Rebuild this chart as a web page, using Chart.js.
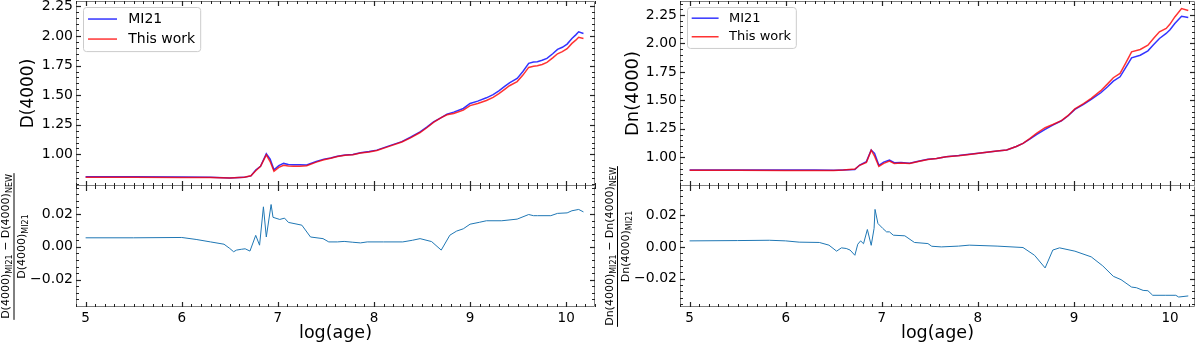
<!DOCTYPE html>
<html>
<head>
<meta charset="utf-8">
<script src="https://cdn.jsdelivr.net/npm/chart.js@4.4.0/dist/chart.umd.min.js"></script>
<style>
  html, body { margin: 0; padding: 0; background: #fff; }
  #wrap { position: relative; width: 1200px; height: 344px; }
  canvas { position: absolute; }
</style>
</head>
<body>
<div id="wrap">
  <canvas id="dTop" width="600" height="186" style="left:0;top:0"></canvas>
  <canvas id="dRes" width="600" height="184" style="left:0;top:160px"></canvas>
  <canvas id="dnTop" width="600" height="186" style="left:600px;top:0"></canvas>
  <canvas id="dnRes" width="600" height="184" style="left:600px;top:160px"></canvas>
</div>
<script>
// D(4000): MI21 vs this work
const ageD = [5.0, 5.5, 6.0, 6.3, 6.5, 6.65, 6.72, 6.77, 6.82, 6.88, 6.92, 6.96, 7.01, 7.06, 7.11, 7.16, 7.23, 7.3, 7.4, 7.48,
  7.55, 7.62, 7.7, 7.78, 7.86, 7.95, 8.03, 8.15, 8.29, 8.38, 8.48, 8.55, 8.62, 8.7, 8.76, 8.83, 8.93, 9.0, 9.08, 9.17,
  9.24, 9.3, 9.36, 9.41, 9.49, 9.55, 9.61, 9.66, 9.7, 9.75, 9.8, 9.86, 9.91, 9.96, 10.01, 10.06, 10.1, 10.13, 10.18];
const d4000MI21 = [0.811, 0.811, 0.810, 0.806, 0.800, 0.806, 0.818, 0.868, 0.900, 1.005, 0.960, 0.870, 0.905, 0.924, 0.915, 0.912, 0.912, 0.910, 0.940, 0.960,
  0.970, 0.985, 0.995, 1.000, 1.014, 1.024, 1.036, 1.070, 1.108, 1.145, 1.190, 1.230, 1.275, 1.310, 1.340, 1.357, 1.388, 1.430, 1.450, 1.478,
  1.505, 1.537, 1.575, 1.605, 1.642, 1.700, 1.769, 1.780, 1.783, 1.795, 1.811, 1.850, 1.887, 1.905, 1.932, 1.980, 2.010, 2.036, 2.022];
const d4000New = [0.806, 0.806, 0.805, 0.804, 0.801, 0.807, 0.820, 0.862, 0.900, 0.996, 0.940, 0.857, 0.890, 0.908, 0.902, 0.900, 0.900, 0.904, 0.935, 0.955,
  0.967, 0.982, 0.992, 0.997, 1.011, 1.021, 1.033, 1.066, 1.105, 1.140, 1.185, 1.225, 1.270, 1.310, 1.335, 1.345, 1.374, 1.412, 1.430, 1.455,
  1.482, 1.513, 1.550, 1.580, 1.615, 1.670, 1.735, 1.745, 1.749, 1.760, 1.777, 1.815, 1.850, 1.868, 1.893, 1.938, 1.965, 1.990, 1.980];
const ageResD = [5.0, 5.5, 6.0, 6.15, 6.3, 6.44, 6.5, 6.54, 6.57, 6.62, 6.66, 6.71, 6.77, 6.81, 6.85, 6.88, 6.93, 6.95, 7.02, 7.07,
  7.11, 7.21, 7.25, 7.34, 7.47, 7.53, 7.62, 7.69, 7.78, 7.86, 7.93, 8.1, 8.3, 8.4, 8.48, 8.6, 8.7, 8.79, 8.86, 8.93,
  9.0, 9.1, 9.17, 9.33, 9.49, 9.61, 9.66, 9.7, 9.84, 9.91, 10.01, 10.06, 10.13, 10.18];
const resD = [0.0055, 0.0055, 0.0057, 0.0045, 0.003, 0.0016, -0.001, -0.003, -0.002, -0.0015, -0.0012, -0.0026, 0.007, 0.001, 0.0244, 0.006, 0.0258, 0.018, 0.0167, 0.0175,
  0.0149, 0.0137, 0.0132, 0.006, 0.005, 0.003, 0.003, 0.0033, 0.0028, 0.0024, 0.003, 0.003, 0.003, 0.004, 0.005, 0.0032, -0.002, 0.0071, 0.0096, 0.011,
  0.0138, 0.015, 0.0159, 0.0159, 0.0169, 0.0197, 0.019, 0.019, 0.019, 0.0204, 0.0207, 0.022, 0.0228, 0.0213];

// Dn(4000): MI21 vs this work
const ageDn = [5.0, 5.5, 6.0, 6.3, 6.5, 6.6, 6.72, 6.77, 6.84, 6.89, 6.925, 6.97, 7.02, 7.08, 7.13, 7.2, 7.29, 7.38, 7.48, 7.57,
  7.67, 7.8, 7.91, 8.05, 8.2, 8.3, 8.4, 8.47, 8.54, 8.61, 8.7, 8.78, 8.87, 8.94, 9.01, 9.1, 9.18, 9.28, 9.35, 9.41,
  9.48, 9.54, 9.6, 9.69, 9.77, 9.83, 9.89, 9.96, 10.0, 10.05, 10.12, 10.19];
const dn4000MI21 = [0.889, 0.889, 0.888, 0.888, 0.886, 0.889, 0.893, 0.932, 0.962, 1.064, 1.035, 0.930, 0.958, 0.976, 0.953, 0.955, 0.947, 0.965, 0.982, 0.990,
  1.005, 1.015, 1.026, 1.040, 1.055, 1.064, 1.095, 1.123, 1.160, 1.200, 1.245, 1.283, 1.321, 1.365, 1.421, 1.465, 1.509, 1.567, 1.620, 1.669,
  1.707, 1.790, 1.874, 1.897, 1.935, 1.990, 2.044, 2.088, 2.120, 2.175, 2.239, 2.228];
const dn4000New = [0.886, 0.886, 0.885, 0.885, 0.885, 0.889, 0.897, 0.930, 0.955, 1.062, 1.010, 0.920, 0.947, 0.967, 0.946, 0.949, 0.945, 0.963, 0.980, 0.990,
  1.005, 1.014, 1.025, 1.040, 1.055, 1.064, 1.095, 1.123, 1.165, 1.210, 1.260, 1.288, 1.322, 1.368, 1.425, 1.472, 1.518, 1.585, 1.645, 1.699,
  1.737, 1.830, 1.926, 1.947, 1.985, 2.045, 2.102, 2.132, 2.170, 2.233, 2.307, 2.290];
const ageResDn = [5.0, 5.5, 5.83, 6.0, 6.14, 6.35, 6.45, 6.53, 6.58, 6.63, 6.67, 6.72, 6.75, 6.78, 6.81, 6.85, 6.89, 6.92, 6.93, 6.96,
  7.01, 7.05, 7.08, 7.12, 7.24, 7.34, 7.48, 7.52, 7.62, 7.8, 7.91, 8.2, 8.47, 8.59, 8.7, 8.78, 8.85, 9.01, 9.18, 9.3,
  9.41, 9.49, 9.6, 9.65, 9.72, 9.77, 9.82, 9.95, 10.06, 10.09, 10.19];
const resDn = [0.0038, 0.004, 0.0042, 0.0038, 0.003, 0.0028, 0.0011, -0.0027, -0.0006, -0.001, -0.002, -0.0053, 0.0017, 0.0038, 0.002, 0.011, 0.001, 0.0117, 0.0237, 0.0148,
  0.0117, 0.0095, 0.0095, 0.0074, 0.007, 0.0028, 0.0021, 0.0004, 0.0, 0.0005, 0.0011, 0.0005, -0.0004, -0.0053, -0.0133, -0.002, -0.0006, -0.0027, -0.0063, -0.012,
  -0.0186, -0.0207, -0.0254, -0.0258, -0.0275, -0.0277, -0.0306, -0.0306, -0.0306, -0.0317, -0.031];

const ageTicks = [5, 6, 7, 8, 9, 10];
const indexTicks = [1.00, 1.25, 1.50, 1.75, 2.00, 2.25];
const resTicks = [-0.02, 0.00, 0.02];

Chart.defaults.font.family = "'DejaVu Sans', sans-serif";
Chart.defaults.color = '#000';

const pts = (xs, ys) => xs.map((x, i) => ({ x: x, y: ys[i] }));
const minus = v => (v < 0 ? '\u2212' : '') + Math.abs(v).toFixed(2);

// frame, inward major/minor ticks on four sides, legend box and fraction label
const deco = {
  id: 'deco',
  afterDraw(chart, args, o) {
    const ctx = chart.ctx, a = chart.chartArea, sx = chart.scales.x, sy = chart.scales.y;
    ctx.save();
    ctx.strokeStyle = '#808080';
    ctx.lineWidth = 1;
    ctx.beginPath();
    ctx.moveTo(a.left + 0.5, a.top + 0.5);
    ctx.lineTo(a.left + 0.5, a.bottom - 0.5);
    ctx.lineTo(a.right - 0.5, a.bottom - 0.5);
    ctx.lineTo(a.right - 0.5, a.top + 0.5);
    if (!o.noTop) ctx.lineTo(a.left + 0.5, a.top + 0.5);
    ctx.stroke();

    const seg = (x1, y1, x2, y2) => { ctx.beginPath(); ctx.moveTo(x1, y1); ctx.lineTo(x2, y2); ctx.stroke(); };
    const minors = (scale, step, major) => {
      const out = [];
      for (let v = Math.ceil(scale.min / step) * step; v <= scale.max + 1e-9; v += step) {
        if (!major.some(m => Math.abs(m - v) < step / 10)) out.push(v);
      }
      return out;
    };
    const marks = (vals, len, width) => {
      ctx.lineWidth = width;
      ctx.strokeStyle = '#222';
      vals.x.forEach(v => {
        const p = Math.round(sx.getPixelForValue(v)) + 0.5;
        seg(p, a.bottom, p, a.bottom - len);
        seg(p, a.top, p, a.top + len);
      });
      vals.y.forEach(v => {
        const p = Math.round(sy.getPixelForValue(v)) + 0.5;
        if (p < a.top + 1 || p > a.bottom - 1) return;
        seg(a.left, p, a.left + len, p);
        seg(a.right, p, a.right - len, p);
      });
    };
    marks({ x: minors(sx, o.xMinor, o.xMajor), y: minors(sy, o.yMinor, o.yMajor) }, 3, 1);
    marks({ x: o.xMajor, y: o.yMajor }, 5, 1.2);

    if (o.legend) {
      const fs = o.legend.size;
      ctx.font = fs + "px 'DejaVu Sans'";
      const items = chart.data.datasets;
      const pad = 0.36 * fs, len = 2.07 * fs, gap = 0.8 * fs, rowH = 1.43 * fs, first = 0.86 * fs;
      const tw = Math.max(...items.map(d => ctx.measureText(d.label).width));
      const bx = a.left + 7, by = a.top + 6;
      const bw = pad + len + gap + tw + pad, bh = first * 2 + rowH * (items.length - 1);
      ctx.beginPath();
      ctx.roundRect(bx + 0.5, by + 0.5, bw, bh, 3);
      ctx.fillStyle = 'rgba(255,255,255,0.8)';
      ctx.fill();
      ctx.strokeStyle = '#cccccc';
      ctx.lineWidth = 1;
      ctx.stroke();
      items.forEach((d, i) => {
        const cy = by + first + i * rowH;
        ctx.strokeStyle = d.borderColor;
        ctx.lineWidth = d.borderWidth;
        seg(bx + pad, cy, bx + pad + len, cy);
        ctx.fillStyle = '#000';
        ctx.textBaseline = 'middle';
        ctx.textAlign = 'left';
        ctx.fillText(d.label, bx + pad + len + gap, cy);
      });
    }

    if (o.frac) {
      const f = o.frac;
      const mainFont = "11px 'DejaVu Sans'", subFont = "8px 'DejaVu Sans'";
      const width = parts => parts.reduce((s, p) => {
        ctx.font = p[1] ? subFont : mainFont;
        return s + ctx.measureText(p[0]).width;
      }, 0);
      const draw = (parts, base) => {
        let u = -width(parts) / 2;
        parts.forEach(p => {
          ctx.font = p[1] ? subFont : mainFont;
          ctx.fillText(p[0], u, base + (p[1] ? 3 : 0));
          u += ctx.measureText(p[0]).width;
        });
      };
      ctx.translate(f.x, (a.top + a.bottom) / 2);
      ctx.rotate(-Math.PI / 2);
      ctx.fillStyle = '#000';
      ctx.textBaseline = 'alphabetic';
      ctx.textAlign = 'left';
      draw(f.num, -4.5);
      draw(f.den, 11.5);
      const w = Math.max(width(f.num), width(f.den)) + 2;
      ctx.strokeStyle = '#000';
      ctx.lineWidth = 1;
      seg(-w / 2, 0.5, w / 2, 0.5);
    }
    ctx.restore();
  }
};

// drop the half-label padding Chart.js adds at the axis ends
const noEndPad = s => { s.paddingTop = 0; s.paddingBottom = 0; s.paddingLeft = 0; s.paddingRight = 0; };

function topChart(id, c) {
  return new Chart(document.getElementById(id), {
    type: 'line',
    data: {
      datasets: [
        { label: 'MI21', data: pts(c.x, c.mi21), borderColor: 'rgba(0,0,255,0.8)', borderWidth: 1.5, order: 1 },
        { label: 'This work', data: pts(c.x, c.mine), borderColor: 'rgba(255,0,0,0.8)', borderWidth: 1.5, order: 0 }
      ]
    },
    options: {
      responsive: false,
      animation: false,
      layout: { padding: { top: 1, right: 5, bottom: 0, left: 0 } },
      elements: { point: { radius: 0 }, line: { tension: 0 } },
      plugins: {
        legend: { display: false },
        tooltip: { enabled: false },
        deco: { xMajor: ageTicks, yMajor: indexTicks, xMinor: 0.1, yMinor: 0.05, legend: { size: c.legendSize } }
      },
      scales: {
        x: { type: 'linear', display: false, min: 4.9, max: c.xmax },
        y: {
          min: c.ymin, max: c.ymax,
          afterBuildTicks: s => { s.ticks = indexTicks.map(v => ({ value: v })); },
          afterFit: s => { s.width = c.yw; noEndPad(s); },
          grid: { display: false, drawTicks: false },
          border: { display: false },
          ticks: { font: { size: 14 }, padding: 3, callback: v => v.toFixed(2) },
          title: { display: true, text: c.title, font: { size: c.titleSize }, padding: { top: c.titlePad, bottom: 0 } }
        }
      }
    },
    plugins: [deco]
  });
}

function resChart(id, c) {
  return new Chart(document.getElementById(id), {
    type: 'line',
    data: { datasets: [{ label: 'residual', data: pts(c.x, c.res), borderColor: '#1f77b4', borderWidth: 1 }] },
    options: {
      responsive: false,
      animation: false,
      layout: { padding: { top: 26, right: 5, bottom: 0, left: 0 } },
      elements: { point: { radius: 0 }, line: { tension: 0 } },
      plugins: {
        legend: { display: false },
        tooltip: { enabled: false },
        deco: { xMajor: ageTicks, yMajor: resTicks, xMinor: 0.1, yMinor: 0.004, noTop: true, frac: c.frac }
      },
      scales: {
        x: {
          type: 'linear', min: 4.9, max: c.xmax,
          afterBuildTicks: s => { s.ticks = ageTicks.map(v => ({ value: v })); },
          afterFit: s => { s.height = 37; noEndPad(s); },
          grid: { display: false, drawTicks: false },
          border: { display: false },
          ticks: { font: { size: 13.5 }, padding: 3, maxRotation: 0, callback: v => String(v) },
          title: { display: true, text: 'log(age)', font: { size: 17.5 }, padding: { top: 0, bottom: 0 } }
        },
        y: {
          min: c.ymin, max: c.ymax,
          afterBuildTicks: s => { s.ticks = resTicks.map(v => ({ value: v })); },
          afterFit: s => { s.width = c.yw; noEndPad(s); },
          grid: { display: false, drawTicks: false },
          border: { display: false },
          ticks: { font: { size: 14 }, padding: 3, callback: minus }
        }
      }
    },
    plugins: [deco]
  });
}

topChart('dTop', { x: ageD, mi21: d4000MI21, mine: d4000New, xmax: 10.3, ymin: 0.733, ymax: 2.296, yw: 76,
  title: 'D(4000)', titleSize: 17, titlePad: 18, legendSize: 14 });
resChart('dRes', { x: ageResD, res: resD, xmax: 10.3, ymin: -0.0367, ymax: 0.0371, yw: 76,
  frac: { x: 13.5,
    num: [['D(4000)', false], ['MI21', true], [' \u2212 D(4000)', false], ['NEW', true]],
    den: [['D(4000)', false], ['MI21', true]] } });
topChart('dnTop', { x: ageDn, mi21: dn4000MI21, mine: dn4000New, xmax: 10.26, ymin: 0.748, ymax: 2.373, yw: 80,
  title: 'Dn(4000)', titleSize: 18, titlePad: 23, legendSize: 13 });
resChart('dnRes', { x: ageResDn, res: resDn, xmax: 10.26, ymin: -0.038, ymax: 0.0385, yw: 80,
  frac: { x: 17,
    num: [['Dn(4000)', false], ['MI21', true], [' \u2212 Dn(4000)', false], ['NEW', true]],
    den: [['Dn(4000)', false], ['MI21', true]] } });
</script>
</body>
</html>
